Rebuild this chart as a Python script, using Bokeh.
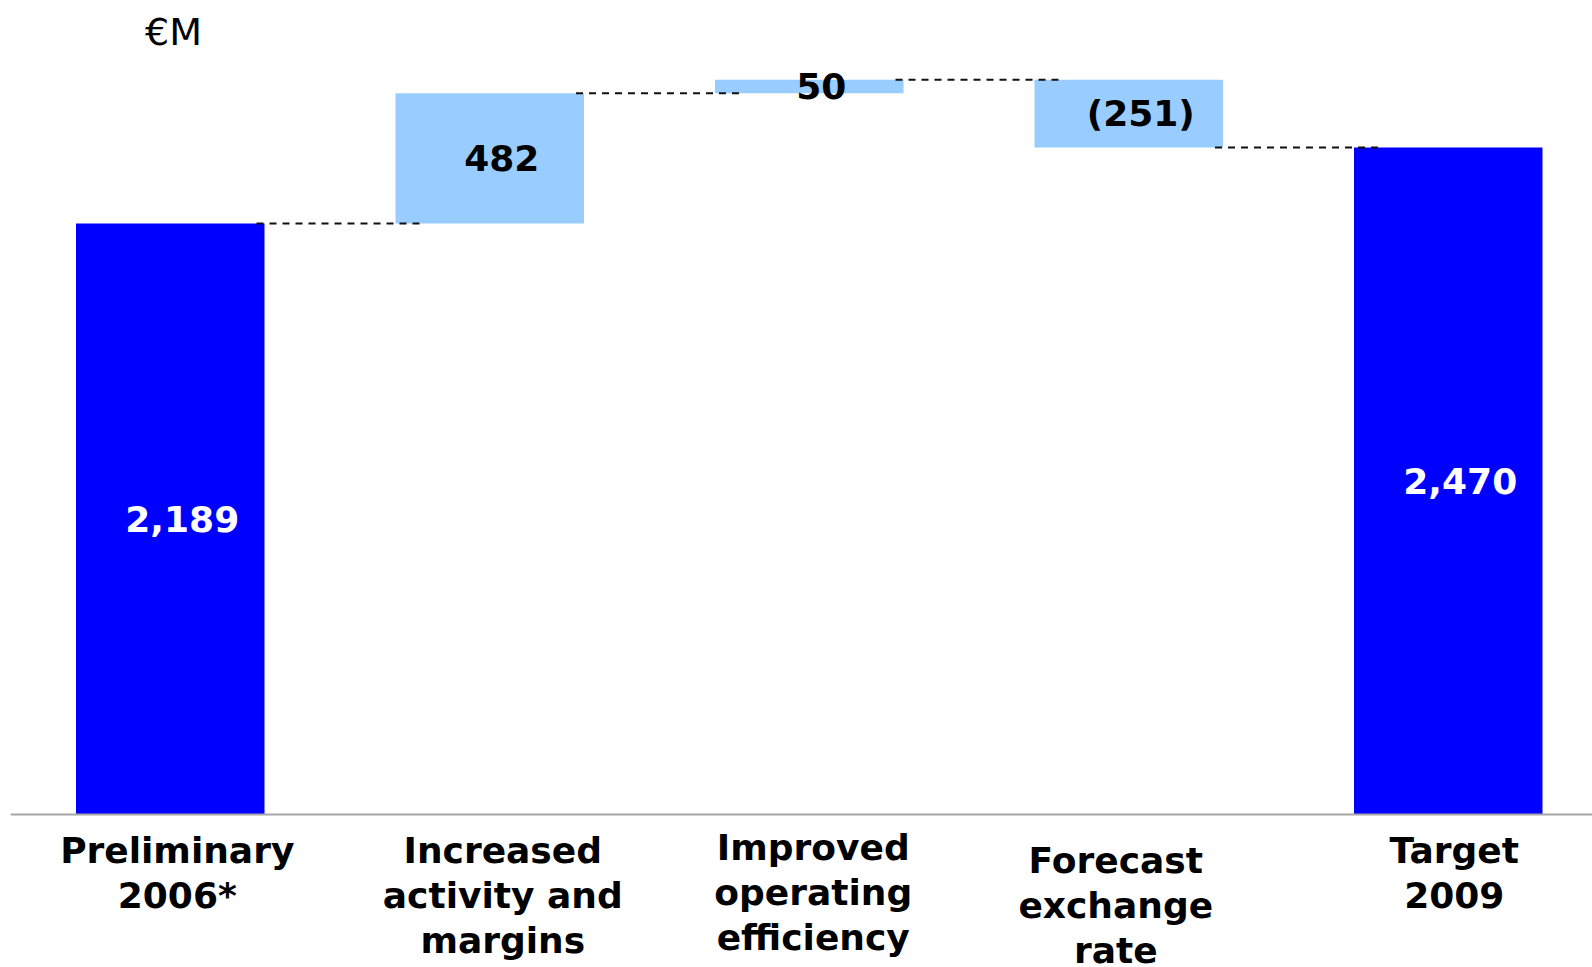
from bokeh.plotting import figure
from bokeh.models import ColumnDataSource, Range1d, Span, Label
from bokeh.core.properties import value
from bokeh.embed import file_html
from bokeh.resources import INLINE

# ---- data ----
categories = ["Preliminary\n2006*", "Increased\nactivity and\nmargins",
              "Improved\noperating\nefficiency", "Forecast\nexchange\nrate",
              "Target\n2009"]
values = [2189, 482, 50, -251, 2470]
is_total = [True, False, False, False, True]
value_labels = ["2,189", "482", "50", "(251)", "2,470"]
unit_label = "€M"

# ---- waterfall geometry from data ----
bottoms, tops = [], []
level = 0
for v, tot in zip(values, is_total):
    if tot:
        b, t = 0, v
        level = v
    else:
        b, t = (level, level + v) if v >= 0 else (level + v, level)
        level = level + v
    bottoms.append(b)
    tops.append(t)

xs = list(range(len(categories)))
bar_colors = ["#0000FF" if t else "#99CCFF" for t in is_total]
label_colors = ["white" if t else "black" for t in is_total]

px_per_unit = 667 / 2470.0
y_max = 814 / px_per_unit
y_min = -(967 - 814) / px_per_unit

p = figure(width=1592, height=967, x_range=Range1d(-0.5, 4.4515),
           y_range=Range1d(y_min, y_max), output_backend="svg",
           toolbar_location=None, min_border_left=10, min_border_right=0,
           min_border_top=0, min_border_bottom=0)
p.axis.visible = False
p.grid.visible = False
p.outline_line_color = None
p.background_fill_color = "white"
p.border_fill_color = "white"

src = ColumnDataSource(dict(x=xs, bottom=bottoms, top=tops, color=bar_colors,
                            mid=[(b + t) / 2 for b, t in zip(bottoms, tops)],
                            lab=value_labels, lcol=label_colors))
p.vbar(x="x", bottom="bottom", top="top", width=0.59, fill_color="color",
       line_color=None, source=src)

# connectors
cx0, cx1, cy = [], [], []
for i in range(len(values) - 1):
    lvl = tops[i] if (is_total[i] or values[i] >= 0) else bottoms[i]
    cx0.append(i + 0.27)
    cx1.append(i + 0.78)
    cy.append(lvl)
p.segment(x0=cx0, y0=cy, x1=cx1, y1=cy, line_color="#111111",
          line_width=2, line_dash="7 6")

# axis baseline
p.add_layout(Span(location=0, dimension="width", line_color="#a6a6a6",
                  line_width=2))

# value labels
p.text(x="x", y="mid", text="lab", text_color="lcol", source=src,
       text_font=value("DejaVu Sans"), text_font_style="bold",
       text_font_size="36px", text_align="center", text_baseline="middle",
       x_offset=12)

# category labels
cat_src = ColumnDataSource(dict(x=xs, lab=categories,
                                y=[-57, -57, -46, -94, -57],
                                dx=[7, 13, 4, -13, 6]))
p.text(x="x", y="y", text="lab", source=cat_src, x_offset="dx",
       text_font=value("DejaVu Sans"), text_font_style="bold",
       text_font_size="36px", text_align="center", text_baseline="top",
       text_line_height=1.1, text_color="black")

p.add_layout(Label(x=163, y=967 - 31, x_units="screen", y_units="screen",
                   text=unit_label, text_font="DejaVu Sans",
                   text_font_size="38px", text_align="center",
                   text_baseline="middle", text_color="black"))

open("out.html", "w").write(file_html(p, INLINE))
